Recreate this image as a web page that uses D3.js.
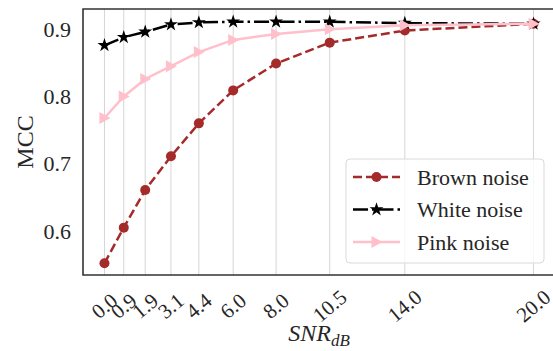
<html>
<head>
<style>
  body { margin: 0; background: #fff; }
  svg text { font-family: "Liberation Serif", "DejaVu Serif", serif; fill: #262626; }
</style>
</head>
<body>
<svg id="viz" width="553" height="351"></svg>
<script src="https://d3js.org/d3.v7.min.js"></script>
<script>
// data
var snr = [0.0, 0.9, 1.9, 3.1, 4.4, 6.0, 8.0, 10.5, 14.0, 20.0];
var tickLabels = ["0.0", "0.9", "1.9", "3.1", "4.4", "6.0", "8.0", "10.5", "14.0", "20.0"];
var brown = [0.552, 0.605, 0.661, 0.711, 0.760, 0.809, 0.849, 0.880, 0.898, 0.908];
var white = [0.876, 0.888, 0.896, 0.907, 0.910, 0.911, 0.911, 0.911, 0.909, 0.908];
var pink  = [0.768, 0.800, 0.826, 0.845, 0.866, 0.884, 0.893, 0.900, 0.906, 0.908];
var yTicks = [0.6, 0.7, 0.8, 0.9];

var svg = d3.select("#viz");
var pLeft = 83, pRight = 555, pTop = 9, pBottom = 275;

var x = d3.scaleLinear().domain([-1, 21]).range([pLeft, pRight]);
var y = d3.scaleLinear().domain([0.5346, 0.930]).range([pBottom, pTop]);

// vertical grid
svg.append("g").selectAll("line")
    .data(snr).enter().append("line")
    .attr("x1", d => x(d)).attr("x2", d => x(d))
    .attr("y1", pTop).attr("y2", pBottom)
    .attr("stroke", "#d5d5d5").attr("stroke-width", 1);

// y tick labels
svg.append("g").selectAll("text")
    .data(yTicks).enter().append("text")
    .attr("x", pLeft - 12).attr("y", d => y(d))
    .attr("text-anchor", "end").attr("dominant-baseline", "central")
    .style("font-size", "22px")
    .text(d => d.toFixed(1));

// x tick labels, rotated
svg.append("g").selectAll("text")
    .data(snr).enter().append("text")
    .attr("transform", d => "translate(" + x(d) + "," + (pBottom + 31) + ") rotate(-40)")
    .attr("text-anchor", "middle").attr("dominant-baseline", "central")
    .style("font-size", "21px")
    .text((d, i) => tickLabels[i]);

// axis labels
svg.append("text")
    .attr("transform", "translate(25," + ((pTop + pBottom) / 2) + ") rotate(-90)")
    .attr("text-anchor", "middle").attr("dominant-baseline", "central")
    .style("font-size", "24px")
    .text("MCC");

var xl = svg.append("text")
    .attr("x", (pLeft + pRight) / 2).attr("y", 341)
    .attr("text-anchor", "middle")
    .style("font-size", "24px").style("font-style", "italic");
xl.append("tspan").text("SNR");
xl.append("tspan").attr("dy", 5).style("font-size", "17px").text("dB");

var line = d3.line().x(d => x(d[0])).y(d => y(d[1]));

var series = [
  {name: "Brown noise", vals: brown, color: "#a52a2a", dash: "9,4", marker: "circle"},
  {name: "White noise", vals: white, color: "#000000", dash: "15,4,2.5,4", marker: "star"},
  {name: "Pink noise",  vals: pink,  color: "#ffc0cb", dash: null, marker: "tri"}
];

function drawMarker(g, type, color, cx, cy) {
  if (type == "circle") {
    g.append("circle").attr("cx", cx).attr("cy", cy).attr("r", 5).attr("fill", color);
  } else if (type == "star") {
    g.append("path").attr("d", d3.symbol().type(d3.symbolStar).size(60)())
      .attr("transform", "translate(" + cx + "," + cy + ")").attr("fill", color);
  } else {
    g.append("path").attr("d", "M-5,-6L6,0L-5,6Z")
      .attr("transform", "translate(" + cx + "," + cy + ")").attr("fill", color);
  }
}

series.forEach(function(s) {
  var g = svg.append("g");
  var pts = snr.map((v, i) => [v, s.vals[i]]);
  g.append("path").datum(pts).attr("d", line)
    .attr("fill", "none").attr("stroke", s.color).attr("stroke-width", 2.5)
    .attr("stroke-dasharray", s.dash);
  pts.forEach(p => drawMarker(g, s.marker, s.color, x(p[0]), y(p[1])));
});

// spines
svg.append("path")
  .attr("d", "M" + pLeft + "," + pTop + "H" + pRight + "V" + pBottom + "H" + pLeft + "Z")
  .attr("fill", "none").attr("stroke", "#333").attr("stroke-width", 1.6);

// legend
var lg = svg.append("g");
lg.append("rect").attr("x", 346).attr("y", 159).attr("width", 198).attr("height", 104)
  .attr("rx", 4).attr("fill", "#fff").attr("fill-opacity", 0.8)
  .attr("stroke", "#d9d9d9").attr("stroke-width", 1);
series.forEach(function(s, i) {
  var cy = 177 + i * 32.5;
  lg.append("line").attr("x1", 353).attr("x2", 400).attr("y1", cy).attr("y2", cy)
    .attr("stroke", s.color).attr("stroke-width", 2.5).attr("stroke-dasharray", s.dash);
  drawMarker(lg, s.marker, s.color, 376.5, cy);
  lg.append("text").attr("x", 417).attr("y", cy).attr("dominant-baseline", "central")
    .style("font-size", "22px").text(s.name);
});
</script>
</body>
</html>
